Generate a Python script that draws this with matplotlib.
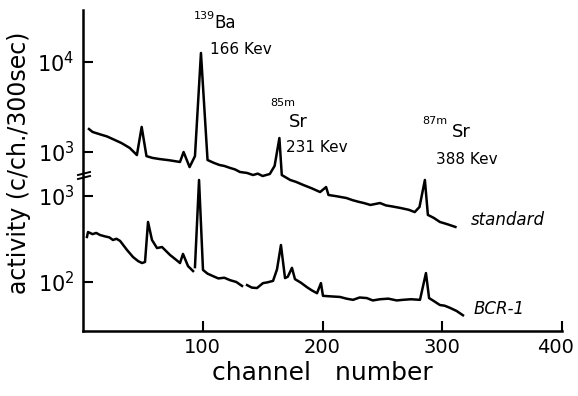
import matplotlib.pyplot as plt
import matplotlib.transforms as mtransforms
import numpy as np
from matplotlib.ticker import FixedLocator, NullLocator, FixedFormatter

# gamma spectrum of the standard (upper trace)
std_ch = [5, 8, 15, 20, 25, 32, 39, 45, 49, 53, 58, 64, 72, 81, 84, 89, 93.5,
          98.5, 104, 109, 114, 118, 123, 127, 131, 137, 142, 146, 150, 156, 160,
          164, 166, 173, 178, 184, 191, 198, 203, 205, 212, 220, 225, 230, 235,
          240, 248, 253, 257, 265, 272, 277, 281, 285.5, 288, 293, 298, 304, 311]
std_val = [1800, 1670, 1560, 1490, 1390, 1260, 1110, 925, 1900, 900, 860, 835,
           810, 775, 1000, 680, 900, 12600, 815, 760, 717, 700, 664, 640, 600,
           585, 555, 575, 541, 570, 700, 1430, 555, 489, 465, 430, 395, 359, 408,
           333, 322, 308, 292, 280, 270, 258, 271, 255, 250, 239, 228, 215, 245,
           489, 200, 185, 167, 158, 147]

# gamma spectrum of BCR-1 (lower trace), nan marks pen lifts
bcr_ch = [3.3, 4.2, 8, 11, 14.2, 18, 22, 25, 28, 31, 36.7, 41.8, 46, 49.3, 51.8,
          54.3, 57.6, 61.8, 66, 72.7, 78, 81, 83.5, 87.7, 91.9, 92.5, 93.5, 96.9,
          100.2, 104, 108.6, 113, 118, 122.8, 128, 132.8, 135, 137, 141, 145.3,
          150.3, 154, 158.7, 162, 165.3, 168.7, 171, 174.5, 177, 182, 187, 191,
          195.4, 198.7, 200.4, 207, 214.6, 220, 225.5, 231, 237, 242, 248, 255,
          262, 267, 274, 281.4, 286.4, 289, 293, 298, 302, 306.5, 312, 317.3]
bcr_val = [334, 381, 360, 372, 352, 340, 330, 308, 318, 300, 236, 195, 175, 166,
           171, 499, 308, 248, 255, 206, 180, 166, 212, 153, 134, np.nan, 149,
           1535, 138, 125, 117, 110, 112, 105, 100, 90, np.nan, 92, 86, 85, 97,
           99, 103, 140, 269, 111, 115, 146, 108, 98, 87, 80, 74, 97, 69, 68, 67,
           64, 62, 66, 65, 61, 63, 64, 61, 62, 63, 62, 127, 65, 60, 54, 53, 50,
           46, 41]

x_ticks = [100, 200, 300, 400]
hi_ticks = [1e3, 1e4]
hi_labels = [r'$10^3$', r'$10^4$']
lo_ticks = [1e2, 1e3]
lo_labels = [r'$10^2$', r'$10^3$']

W, H = 578, 396
fig = plt.figure(figsize=(W / 100, H / 100), dpi=100)
pos = [83 / W, 1 - 331 / H, (562 - 83) / W, (331 - 10) / H]

def px(x, y):
    return x / W, 1 - y / H

# lower trace owns the visible axes
ax_lo = fig.add_axes(pos)
ax_lo.set_yscale('log')
ax_lo.set_xlim(0, 400)
ax_lo.set_ylim(10 ** 1.430, 10 ** 5.163)
ax_lo.plot(bcr_ch, bcr_val, color='black', lw=1.8)
for s in ['top', 'right']:
    ax_lo.spines[s].set_visible(False)
for s in ['left', 'bottom']:
    ax_lo.spines[s].set_linewidth(1.8)
ax_lo.xaxis.set_major_locator(FixedLocator(x_ticks))
ax_lo.yaxis.set_major_locator(FixedLocator(lo_ticks))
ax_lo.yaxis.set_major_formatter(FixedFormatter(lo_labels))
ax_lo.yaxis.set_minor_locator(NullLocator())
ax_lo.tick_params(direction='in', length=7, width=1.5, labelsize=15)
ax_lo.tick_params(axis='x', pad=5, labelsize=14)
ax_lo.tick_params(axis='y', pad=6)

# keep the last channel label inside the figure edge
shift = mtransforms.ScaledTranslation(-6 / 100, 0, fig.dpi_scale_trans)
for lbl in ax_lo.get_xticklabels():
    if lbl.get_text() == '400':
        lbl.set_transform(lbl.get_transform() + shift)

# upper trace on its own log scale, sharing the same box
ax_hi = fig.add_axes(pos, facecolor='none')
ax_hi.set_yscale('log')
ax_hi.set_xlim(0, 400)
ax_hi.set_ylim(10 ** 1.011, 10 ** 4.578)
ax_hi.plot(std_ch, std_val, color='black', lw=1.8)
for s in ax_hi.spines.values():
    s.set_visible(False)
ax_hi.set_xticks([])
ax_hi.yaxis.set_major_locator(FixedLocator(hi_ticks))
ax_hi.yaxis.set_major_formatter(FixedFormatter(hi_labels))
ax_hi.yaxis.set_minor_locator(NullLocator())
ax_hi.tick_params(direction='in', length=7, width=1.5, labelsize=15, pad=6)

# axis break on the y spine
fig.add_artist(plt.Line2D([78 / W, 90 / W], [1 - 175 / H, 1 - 172 / H],
                          color='black', lw=1.4))
fig.add_artist(plt.Line2D([78 / W, 90 / W], [1 - 179 / H, 1 - 176 / H],
                          color='black', lw=1.4))

ax_lo.set_xlabel('channel   number', fontsize=18, labelpad=3)
fig.text(*px(19, 163), 'activity (c/ch./300sec)', rotation=90,
         ha='center', va='center', fontsize=17)

fs = 11
sup = 8
fig.text(*px(194, 19), '139', fontsize=sup)
fig.text(*px(214, 28), 'Ba', fontsize=fs + 1)
fig.text(*px(210, 54), '166 Kev', fontsize=fs)
fig.text(*px(270, 106), '85m', fontsize=sup)
fig.text(*px(289, 127), 'Sr', fontsize=fs + 2)
fig.text(*px(286, 152), '231 Kev', fontsize=fs)
fig.text(*px(422, 124), '87m', fontsize=sup)
fig.text(*px(452, 137), 'Sr', fontsize=fs + 2)
fig.text(*px(436, 164), '388 Kev', fontsize=fs)
fig.text(*px(471, 225), 'standard', fontsize=12, style='italic')
fig.text(*px(474, 314), 'BCR-1', fontsize=12, style='italic')

fig.savefig('out.png', dpi=100)
